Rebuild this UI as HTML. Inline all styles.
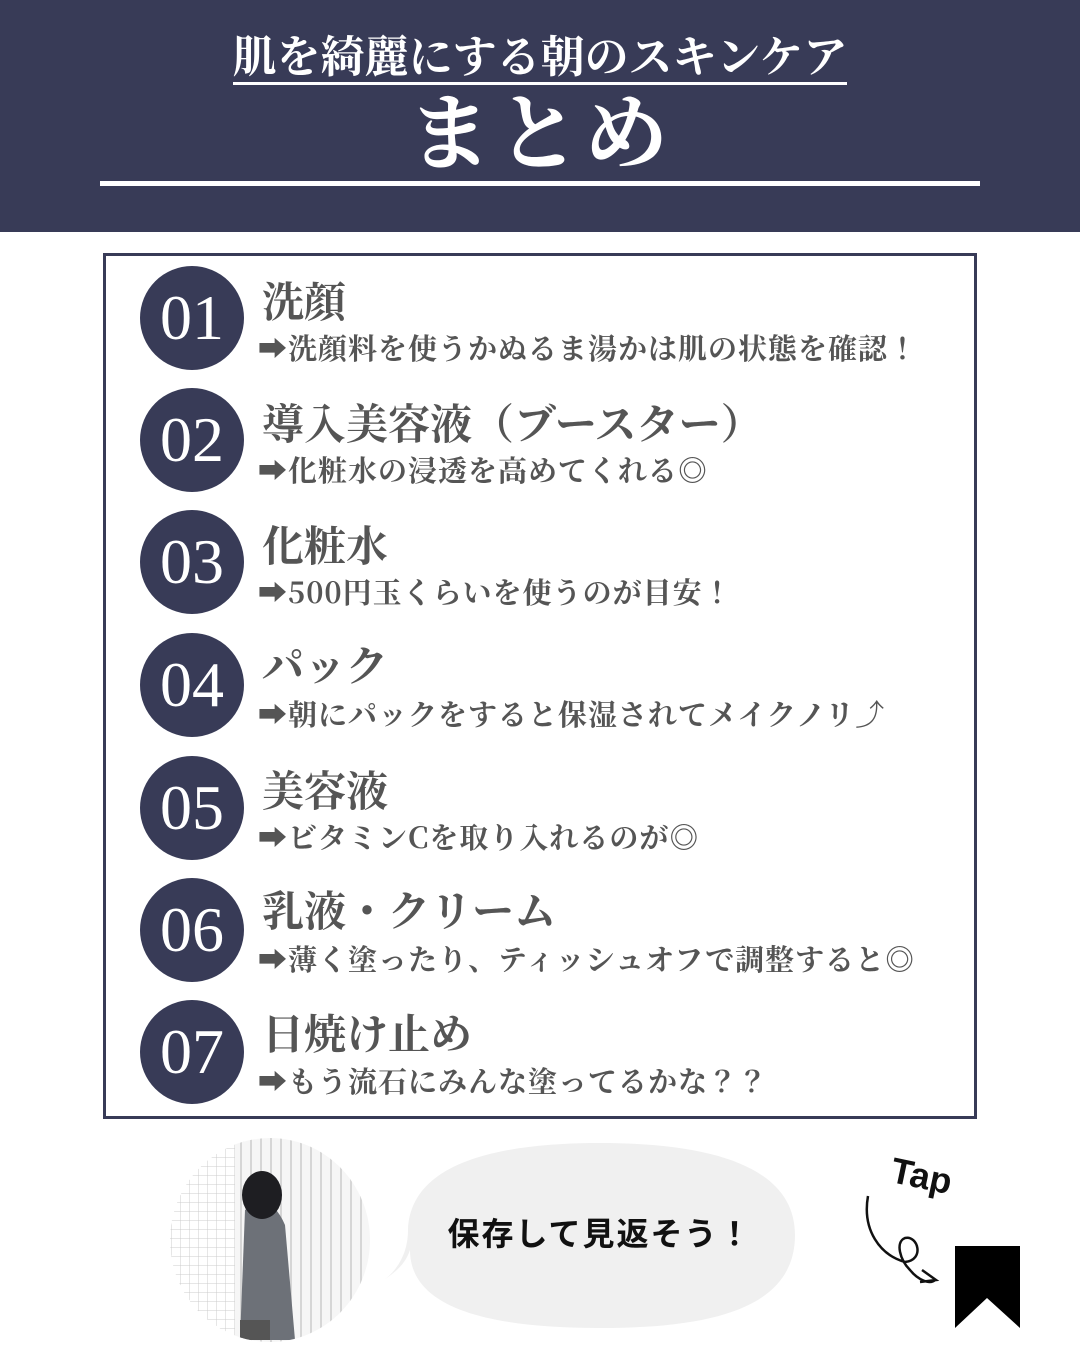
<!DOCTYPE html>
<html><head><meta charset="utf-8"><style>
*{margin:0;padding:0;box-sizing:border-box}
body{width:1080px;height:1350px;background:#fff;position:relative;overflow:hidden;font-family:"Liberation Serif","Noto Serif CJK JP",serif}
.hdr{position:absolute;left:0;top:0;width:1080px;height:232px;background:#383b57}
.t1{position:absolute;left:0;width:1080px;top:32px;text-align:center;color:#fff;font-size:44px;font-weight:bold;line-height:52px}
.t1 span{border-bottom:3px solid #fff;padding-bottom:0}
.t2{position:absolute;left:0;width:1080px;top:88px;text-align:center;color:#fff;font-size:84px;font-weight:bold;line-height:96px;letter-spacing:4px}
.hl{position:absolute;left:100px;top:181px;width:880px;height:5px;background:#fff}
.box{position:absolute;left:103px;top:253px;width:874px;height:866px;border:3px solid #383b57}
.c{position:absolute;left:140px;width:104px;height:104px;border-radius:50%;background:#383b57;color:#fff;font-size:64px;line-height:104px;text-align:center;font-family:"Liberation Serif",serif}
.tt{position:absolute;left:262px;font-size:42px;font-weight:bold;color:#555;line-height:48px;white-space:nowrap;font-family:"Noto Serif CJK JP",serif}
.st{position:absolute;left:258px;font-size:29px;font-weight:bold;color:#555;line-height:34px;white-space:nowrap;font-family:"Noto Serif CJK JP",serif;letter-spacing:1px}
</style></head><body>
<div class="hdr">
<div class="t1"><span>肌を綺麗にする朝のスキンケア</span></div>
<div class="t2">まとめ</div>
<div class="hl"></div>
</div>
<div class="box"></div>

<div class="c" style="top:266px">01</div>
<div class="tt" style="top:276px">洗顔</div>
<div class="st" style="top:331px">➡洗顔料を使うかぬるま湯かは肌の状態を確認！</div>

<div class="c" style="top:388px">02</div>
<div class="tt" style="top:398px">導入美容液（ブースター）</div>
<div class="st" style="top:453px">➡化粧水の浸透を高めてくれる◎</div>

<div class="c" style="top:510px">03</div>
<div class="tt" style="top:520px">化粧水</div>
<div class="st" style="top:575px">➡500円玉くらいを使うのが目安！</div>

<div class="c" style="top:633px">04</div>
<div class="tt" style="top:640px">パック</div>
<div class="st" style="top:697px">➡朝にパックをすると保湿されてメイクノリ⤴</div>

<div class="c" style="top:756px">05</div>
<div class="tt" style="top:765px">美容液</div>
<div class="st" style="top:820px">➡ビタミンCを取り入れるのが◎</div>

<div class="c" style="top:878px">06</div>
<div class="tt" style="top:885px">乳液・クリーム</div>
<div class="st" style="top:942px">➡薄く塗ったり、ティッシュオフで調整すると◎</div>

<div class="c" style="top:1000px">07</div>
<div class="tt" style="top:1008px">日焼け止め</div>
<div class="st" style="top:1064px">➡もう流石にみんな塗ってるかな？？</div>

<svg style="position:absolute;left:0;top:1130px" width="1080" height="220">
<defs><clipPath id="cp"><ellipse cx="270" cy="110" rx="100" ry="102"/></clipPath>
<pattern id="grid" width="9" height="9" patternUnits="userSpaceOnUse"><rect width="9" height="9" fill="#fff"/><path d="M0 0H9M0 0V9" stroke="#ccc" stroke-width="1"/></pattern>
<pattern id="str" width="10" height="10" patternUnits="userSpaceOnUse"><rect width="10" height="10" fill="#f6f6f6"/><rect width="2" height="10" fill="#d6d6d6"/></pattern></defs>
<g clip-path="url(#cp)">
<rect x="165" y="0" width="80" height="220" fill="url(#grid)"/>
<rect x="235" y="0" width="140" height="220" fill="url(#str)"/>
<path d="M245 80 Q270 60 285 95 L295 210 L240 210 Z" fill="#6d7178"/>
<ellipse cx="262" cy="65" rx="20" ry="24" fill="#1e1e22"/>
<rect x="240" y="190" width="30" height="20" fill="#555"/>
</g>
<path d="M600 13 C720 13 795 40 795 105 C795 175 720 198 600 198 C480 198 410 175 410 120 C405 135 395 142 384 150 C400 138 408 120 408 100 C410 40 480 13 600 13 Z" fill="#f0f0f0"/>
<text x="600" y="115" text-anchor="middle" font-size="32" font-weight="bold" letter-spacing="2" font-family="'Noto Sans CJK JP',sans-serif" fill="#111">保存して見返そう！</text>
<text x="890" y="58" font-size="36" font-weight="bold" font-family="'Liberation Sans',sans-serif" fill="#111" transform="rotate(12 920 50)">Tap</text>
<path d="M868 66 C862 100 880 125 905 132 C925 130 918 105 905 108 C895 112 900 130 910 140 C918 150 930 155 935 150" fill="none" stroke="#111" stroke-width="2.5"/>
<path d="M922 140 L936 150 L920 152" fill="none" stroke="#111" stroke-width="2.5"/>
<path d="M955 116 H1020 V198 L987 168 L955 198 Z" fill="#000"/>
</svg>
</body></html>
